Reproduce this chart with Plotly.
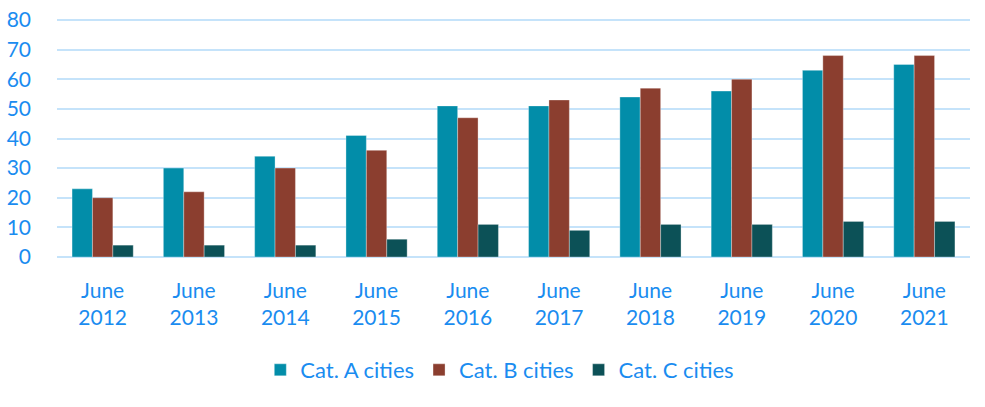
import plotly.graph_objects as go

categories = ["June<br>2012", "June<br>2013", "June<br>2014", "June<br>2015", "June<br>2016",
              "June<br>2017", "June<br>2018", "June<br>2019", "June<br>2020", "June<br>2021"]
cat_a = [23, 30, 34, 41, 51, 51, 54, 56, 63, 65]
cat_b = [20, 22, 30, 36, 47, 53, 57, 60, 68, 68]
cat_c = [4, 4, 4, 6, 11, 9, 11, 11, 12, 12]
series_names = ["Cat. A cities", "Cat. B cities", "Cat. C cities"]
y_ticks = [0, 10, 20, 30, 40, 50, 60, 70, 80]
colors = ["#028DA9", "#8B3E2F", "#0C5157"]

font_color = "#1A8CF0"
font_family = "Lato"

fig = go.Figure()
for name, vals, col in zip(series_names, [cat_a, cat_b, cat_c], colors):
    fig.add_trace(go.Bar(x=categories, y=vals, name=name,
                         marker=dict(color=col, line=dict(color="rgba(255,255,255,0.4)", width=0.8))))

fig.update_layout(
    width=985, height=407,
    margin=dict(l=57, r=15, t=18, b=150, autoexpand=False),
    paper_bgcolor="white", plot_bgcolor="white",
    barmode="group", bargap=0.33, bargroupgap=0,
    font=dict(family=font_family, color=font_color, size=21),
    showlegend=True,
    legend=dict(orientation="h", x=0.485, xanchor="center", y=-0.473, yanchor="middle",
                font=dict(size=22, color=font_color), traceorder="normal"),
    xaxis=dict(showgrid=False, showline=False, ticks="", automargin=False,
               ticklabelstandoff=19,
               tickfont=dict(size=21, color=font_color)),
    yaxis=dict(range=[0, 80.675], tickmode="array", tickvals=y_ticks,
               showgrid=True, gridcolor="#C5E3FA", gridwidth=1.5,
               zeroline=True, zerolinecolor="#C5E3FA", zerolinewidth=1.5, automargin=False,
               showline=False, ticks="", ticklabelstandoff=25,
               tickfont=dict(size=21, color=font_color)),
)

fig.write_html("out.html", config={"displayModeBar": False},
               post_script="document.body.style.margin='0';")
